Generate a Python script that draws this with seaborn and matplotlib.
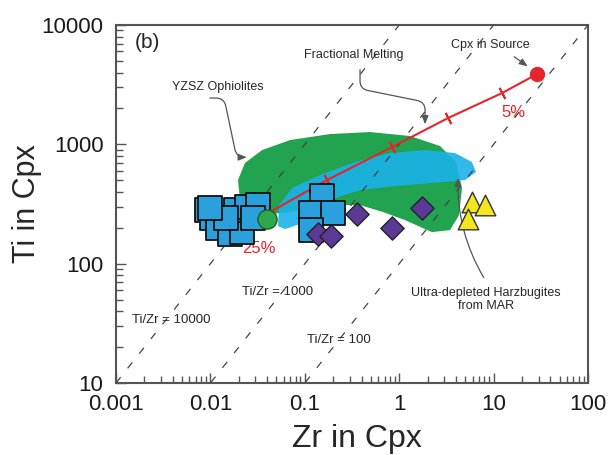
import seaborn as sns
import matplotlib.pyplot as plt
from matplotlib.ticker import LogLocator, NullFormatter

# values (Zr and Ti in Cpx, ppm)
sq_zr = [0.0092, 0.0104, 0.0120, 0.0162, 0.0216, 0.0187, 0.0244, 0.0319,
         0.0282, 0.0146, 0.0099, 0.152, 0.116, 0.199, 0.116]
sq_ti = [281, 241, 199, 177, 184, 281, 298, 310, 241, 241, 292, 369, 266, 266, 191]

dia_zr = [0.357, 0.84, 1.74, 0.138, 0.190]
dia_ti = [261, 199, 292, 177, 170]

tri_zr = [5.90, 8.11, 5.36]
tri_ti = [328, 310, 236]

# fractional melting curve from source to 25 % melting
melt_zr = [0.0428, 0.172, 0.839, 3.29, 12.3, 28.8]
melt_ti = [271, 502, 949, 1661, 2692, 3880]
residue_zr = [0.0398]
residue_ti = [236]
source_zr = [28.8]
source_ti = [3880]

# YZSZ ophiolite field (green) and second field (blue)
green_zr = [0.0206, 0.0196, 0.0232, 0.0352, 0.0697, 0.185, 0.491, 1.30, 2.71, 4.0,
            4.63, 4.30, 3.45, 2.22, 1.15, 0.673, 0.384, 0.185, 0.0697, 0.0335, 0.0221]
green_ti = [341, 502, 697, 895, 1086, 1220, 1268, 1175, 968, 711,
            430, 255, 191, 184, 232, 271, 310, 310, 271, 255, 271]
blue_zr = [0.052, 0.0533, 0.0731, 0.145, 0.340, 0.80, 1.88, 3.90, 5.90,
           6.51, 4.98, 2.12, 0.903, 0.384, 0.209, 0.128, 0.0889, 0.0617]
blue_ti = [207, 310, 430, 553, 711, 846, 895, 846, 711,
           586, 502, 474, 447, 414, 355, 271, 215, 195]

# Ti/Zr reference lines
ratios = [10000, 1000, 100]
ref_zr = [0.001, 100]

x_ticks = [0.001, 0.01, 0.1, 1, 10, 100]
x_labels = ["0.001", "0.01", "0.1", "1", "10", "100"]
y_ticks = [10, 100, 1000, 10000]
y_labels = ["10", "100", "1000", "10000"]

sns.set_style("ticks")
plt.rcParams['font.family'] = ['Liberation Sans', 'DejaVu Sans']

fig = plt.figure(figsize=(6.08, 4.55), dpi=100)
ax = fig.add_axes([0.1908, 0.1582, 0.7763, 0.7868])
ax.set_xscale('log')
ax.set_yscale('log')

red = '#e8242b'
grey = '#444444'

# fields
ax.fill(green_zr, green_ti, color='#22a34f', lw=0, zorder=1)
ax.fill(blue_zr, blue_ti, color='#1ab2ea', alpha=0.9, lw=0, zorder=2)

# dashed Ti/Zr lines
for r in ratios:
    ax.plot(ref_zr, [r * z for z in ref_zr], ls=(0, (6, 9)), color=grey, lw=0.9, zorder=3)

# melting curve
sns.lineplot(x=melt_zr, y=melt_ti, sort=False, estimator=None, color=red, lw=1.5, ax=ax, zorder=4)
ax.plot(melt_zr[1:-1], melt_ti[1:-1], ls='none', marker=(2, 2, 27), ms=9,
        mec=red, mew=1.3, zorder=4)

# samples
sns.scatterplot(x=sq_zr, y=sq_ti, marker='s', s=300, color='#2aa0dc',
                edgecolor='#111111', linewidth=1.3, ax=ax, zorder=5)
sns.scatterplot(x=dia_zr, y=dia_ti, marker='D', s=140, color='#5b3a97',
                edgecolor='#222222', linewidth=1, ax=ax, zorder=6)
sns.scatterplot(x=tri_zr, y=tri_ti, marker='^', s=220, color='#f4e61e',
                edgecolor='#333333', linewidth=1, ax=ax, zorder=6)
sns.scatterplot(x=residue_zr, y=residue_ti, marker='o', s=190, color='#2ea84c',
                edgecolor='#1a5e2a', linewidth=1, ax=ax, zorder=6)
sns.scatterplot(x=source_zr, y=source_ti, marker='o', s=100, color=red,
                edgecolor=red, linewidth=1, ax=ax, zorder=7)

# labels
tf = ax.transAxes
ax.text(0.040, 0.950, "(b)", transform=tf, fontsize=15, ha='left', va='center')
ax.text(0.504, 0.916, "Fractional Melting", transform=tf, fontsize=9, ha='center', va='center')
ax.text(0.216, 0.827, "YZSZ Ophiolites", transform=tf, fontsize=9, ha='center', va='center')
ax.text(0.794, 0.944, "Cpx in Source", transform=tf, fontsize=9, ha='center', va='center')
ax.text(0.843, 0.757, "5%", transform=tf, fontsize=12, color=red, ha='center', va='center')
ax.text(0.303, 0.377, "25%", transform=tf, fontsize=12, color=red, ha='center', va='center')
ax.text(0.784, 0.233, "Ultra-depleted Harzbugites\nfrom MAR", transform=tf, fontsize=9,
        ha='center', va='center', linespacing=1.1)
ax.text(0.117, 0.176, "Ti/Zr = 10000", transform=tf, fontsize=9.5, ha='center', va='center')
ax.text(0.343, 0.254, "Ti/Zr = 1000", transform=tf, fontsize=9.5, ha='center', va='center')
ax.text(0.472, 0.120, "Ti/Zr = 100", transform=tf, fontsize=9.5, ha='center', va='center')

# arrows
arrow = dict(arrowstyle="-|>,head_length=0.5,head_width=0.2", color='#555555', lw=0.9)
ax.annotate("", xy=(0.026, 780), xycoords='data', xytext=(0.193, 0.796), textcoords='axes fraction',
            arrowprops=dict(arrow, connectionstyle="arc,angleA=0,armA=17,angleB=180,armB=13,rad=8"))
ax.annotate("", xy=(1.88, 1396), xycoords='data', xytext=(0.517, 0.883), textcoords='axes fraction',
            arrowprops=dict(arrow, connectionstyle="arc,angleA=-90,armA=22,angleB=90,armB=25,rad=8"))
ax.annotate("", xy=(24.3, 4360), xycoords='data', xytext=(0.839, 0.916), textcoords='axes fraction',
            arrowprops=dict(arrow, connectionstyle="arc3,rad=0"))
ax.annotate("", xy=(4.20, 553), xycoords='data', xytext=(0.782, 0.288), textcoords='axes fraction',
            arrowprops=dict(arrow, connectionstyle="arc3,rad=-0.15"))

# axes
ax.set_xlim(0.001, 100)
ax.set_ylim(10, 10000)
ax.set_xticks(x_ticks)
ax.set_xticklabels(x_labels)
ax.set_yticks(y_ticks)
ax.set_yticklabels(y_labels)
for axis in (ax.xaxis, ax.yaxis):
    axis.set_minor_locator(LogLocator(base=10, subs=range(2, 10)))
    axis.set_minor_formatter(NullFormatter())

for s in ax.spines.values():
    s.set_color('#555555')
    s.set_linewidth(1.5)
ax.tick_params(which='both', direction='in', top=False, right=False, color='#555555',
               labelcolor='#1a1a1a')
ax.tick_params(which='major', length=7, width=1, labelsize=16)
ax.tick_params(which='minor', length=5, width=1)
ax.tick_params(axis='x', pad=8)
ax.tick_params(axis='y', pad=9)

ax.set_xlabel("Zr in Cpx", fontsize=23)
ax.set_ylabel("Ti in Cpx", fontsize=22)
ax.xaxis.set_label_coords(0.51, -0.157)
ax.xaxis.label.set_va('center')
ax.yaxis.set_label_coords(-0.189, 0.5)
ax.yaxis.label.set_va('center')

plt.savefig("out.png", dpi=100)
